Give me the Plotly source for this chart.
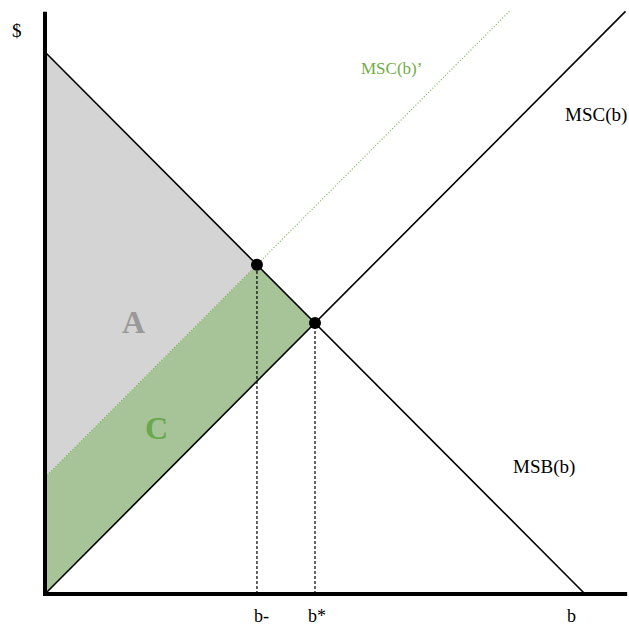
import plotly.graph_objects as go

# Linear marginal curves: MSB(b) = msb_intercept + msb_slope*b, MSC(b) = msc_slope*b
msb_intercept = 100.0
msb_slope = -1.0
msc_slope = 1.0
msc_prime_intercept = 21.5   # shifted cost curve MSC(b)'
msc_end = 107.5              # where MSC(b) is cut off
msc_prime_end = 86.0         # where MSC(b)' is cut off
axis_x_end = 107.8
axis_y_end = 107.4

tick_labels = ["b-", "b*", "b"]

SERIF = "Liberation Serif, Times New Roman, serif"
GREEN_TXT = "rgb(106,168,79)"
GREEN_FILL = "rgb(167,196,152)"
GRAY_FILL = "rgb(212,212,212)"


def msb(b):
    return msb_intercept + msb_slope * b


def msc(b):
    return msc_slope * b


def msc_prime(b):
    return msc_prime_intercept + msc_slope * b


# equilibria
b_star = msb_intercept / (msc_slope - msb_slope)
b_minus = (msb_intercept - msc_prime_intercept) / (msc_slope - msb_slope)
b_max = -msb_intercept / msb_slope

fig = go.Figure()

# area A (grey) between MSB and MSC(b)'
fig.add_trace(go.Scatter(
    x=[0, 0, b_minus, 0], y=[msb(0), msc_prime(0), msc_prime(b_minus), msb(0)],
    fill="toself", fillcolor=GRAY_FILL, mode="none", hoverinfo="skip"))
# area C (green) between MSC(b)' and MSC(b)
fig.add_trace(go.Scatter(
    x=[0, 0, b_star, b_minus, 0],
    y=[msc_prime(0), msc(0), msc(b_star), msb(b_minus), msc_prime(0)],
    fill="toself", fillcolor=GREEN_FILL, mode="none", hoverinfo="skip"))

# MSC(b)' dotted
fig.add_trace(go.Scatter(
    x=[0, msc_prime_end], y=[msc_prime(0), msc_prime(msc_prime_end)],
    mode="lines", line=dict(color="rgb(112,180,70)", width=1.2, dash="1px,2px"),
    hoverinfo="skip"))

# MSB and MSC
fig.add_trace(go.Scatter(
    x=[0, b_max], y=[msb(0), msb(b_max)], mode="lines",
    line=dict(color="black", width=1.6), hoverinfo="skip"))
fig.add_trace(go.Scatter(
    x=[0, msc_end], y=[msc(0), msc(msc_end)], mode="lines",
    line=dict(color="black", width=1.6), hoverinfo="skip"))

# dashed drop lines
for bv, yv in [(b_minus, msb(b_minus)), (b_star, msb(b_star))]:
    fig.add_trace(go.Scatter(
        x=[bv, bv], y=[0, yv], mode="lines",
        line=dict(color="black", width=1.2, dash="3px,2px"), hoverinfo="skip"))

# equilibrium points
fig.add_trace(go.Scatter(
    x=[b_minus, b_star], y=[msb(b_minus), msb(b_star)], mode="markers",
    marker=dict(color="black", size=12), hoverinfo="skip"))

# axes
fig.add_trace(go.Scatter(
    x=[0, 0, axis_x_end], y=[axis_y_end, 0, 0], mode="lines",
    line=dict(color="black", width=4), hoverinfo="skip"))

annots = [
    dict(x=-5.2, y=103.9, text="$", size=19, color="black"),
    dict(x=64.1, y=96.9, text="MSC(b)\u2019", size=17, color="rgb(112,173,71)"),
    dict(x=102.0, y=88.4, text="MSC(b)", size=19, color="black"),
    dict(x=92.4, y=23.4, text="MSB(b)", size=19, color="black"),
    dict(x=16.3, y=50.2, text="<b>A</b>", size=32, color="rgb(153,153,153)"),
    dict(x=20.7, y=30.6, text="<b>C</b>", size=32, color=GREEN_TXT),
]
for a in annots:
    fig.add_annotation(x=a["x"], y=a["y"], text=a["text"], showarrow=False,
                       font=dict(family=SERIF, size=a["size"], color=a["color"]),
                       xanchor="center", yanchor="middle")

for lbl, bv, shift in zip(tick_labels, [b_minus, b_star, b_max], [5, 2, -14]):
    fig.add_annotation(x=bv, y=-4.1, text=lbl, showarrow=False, xshift=shift,
                       font=dict(family=SERIF, size=18, color="black"),
                       xanchor="center", yanchor="middle")

fig.update_layout(
    width=629, height=625, margin=dict(l=0, r=0, t=0, b=0),
    paper_bgcolor="white", plot_bgcolor="white", showlegend=False,
    xaxis=dict(range=[-8.333, 108.148], visible=False, fixedrange=True),
    yaxis=dict(range=[-5.72, 109.59], visible=False, fixedrange=True),
)

fig.write_html("out.html")
